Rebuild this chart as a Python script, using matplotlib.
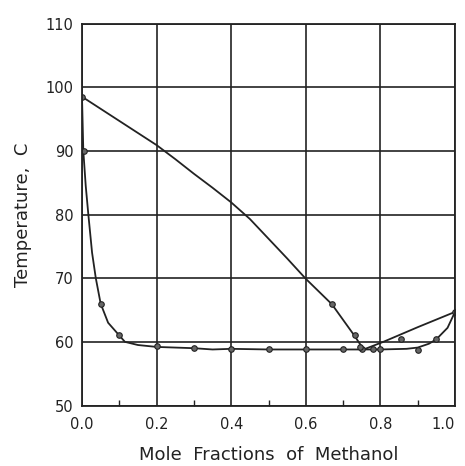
import numpy as np
import matplotlib
matplotlib.use("Agg")
import matplotlib.pyplot as plt

# curves as drawn
vap_x = [0.0, 0.1, 0.2, 0.25, 0.3, 0.35, 0.4, 0.45, 0.5, 0.55, 0.6, 0.67, 0.73, 0.755,
         0.808, 0.9, 1.0]
vap_y = [98.5, 94.7, 90.9, 88.7, 86.4, 84.2, 81.9, 79.3, 76.2, 73.1, 69.9, 65.9, 61.0, 58.8,
         60.0, 62.3, 64.7]

liq_x = [0.0, 0.0035, 0.01, 0.017, 0.027, 0.037, 0.05, 0.07, 0.1, 0.115, 0.15, 0.2, 0.3,
         0.35, 0.4, 0.5, 0.6, 0.7, 0.8, 0.87, 0.9, 0.93, 0.95, 0.98, 1.0]
liq_y = [98.5, 90.0, 84.5, 80.0, 74.0, 70.0, 66.0, 63.0, 61.0, 60.0, 59.5, 59.2, 59.0,
         58.8, 58.9, 58.8, 58.8, 58.8, 58.8, 58.9, 59.1, 59.7, 60.4, 62.2, 64.7]

# measured points
pt_x = [0.0, 0.005, 0.05, 0.1, 0.2, 0.3, 0.4, 0.5, 0.6, 0.7, 0.75, 0.78, 0.8, 0.9, 0.95, 1.0,
        0.67, 0.732, 0.745, 0.854]
pt_y = [98.5, 90.0, 66.0, 61.0, 59.3, 59.1, 58.9, 58.8, 58.8, 58.8, 58.8, 58.8, 58.8, 58.7, 60.4, 64.7,
        66.0, 61.1, 59.2, 60.4]

ink = "#222222"
plt.rcParams["font.family"] = "DejaVu Sans"

fig = plt.figure(figsize=(4.65, 4.66), dpi=100)
ax = fig.add_axes([82 / 465, 1 - 405.5 / 466, 373 / 465, 382 / 466])

ax.plot(vap_x, vap_y, color=ink, lw=1.3)
ax.plot(liq_x, liq_y, color=ink, lw=1.3)
ax.plot(pt_x, pt_y, "o", ms=4, mfc="#666666", mec=ink, mew=0.8)

ax.set_xlim(0, 1.0)
ax.set_ylim(50, 110)
ax.set_xticks(np.arange(0, 1.01, 0.2))
ax.set_xticks(np.arange(0.1, 1.0, 0.2), minor=True)
ax.set_yticks(range(50, 111, 10))
ax.set_xticklabels(["0.0", "0.2", "0.4", "0.6", "0.8", "1.0"])
ax.grid(True, which="major", color=ink, lw=1.2)
ax.tick_params(which="major", length=0, labelsize=10.5, colors=ink, pad=8)
ax.tick_params(axis="y", pad=6)
ax.tick_params(which="minor", direction="in", length=4, width=1, colors=ink)
for s in ax.spines.values():
    s.set_color(ink)
    s.set_linewidth(1.3)
# keep the last x label inside the figure
ax.get_xticklabels()[-1].set_horizontalalignment("right")
ax.get_xticklabels()[-1].set_x(1.02)

ax.set_xlabel("Mole  Fractions  of  Methanol", fontsize=13, color=ink, labelpad=10)
ax.set_ylabel("Temperature,  C", fontsize=13, color=ink, labelpad=10)

fig.savefig("out.png", dpi=100)
